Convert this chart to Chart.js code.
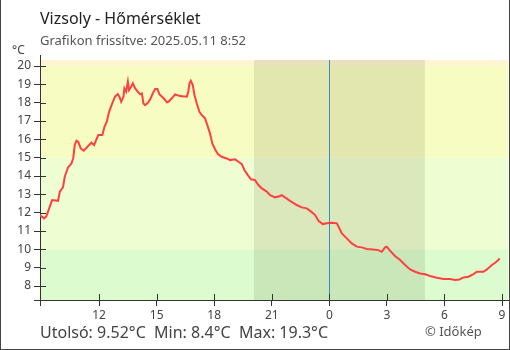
<!DOCTYPE html>
<html>
<head>
<meta charset="utf-8">
<script src="https://cdn.jsdelivr.net/npm/chart.js@4/dist/chart.umd.min.js"></script>
<style>
    html, body { margin: 0; padding: 0; background: #fff; }
    #wrap { position: relative; width: 510px; height: 350px; font-family: "Noto Sans", sans-serif; }
    #chart1 { position: absolute; left: 0; top: 0; }
    #frame { position: absolute; left: 0; top: 0; width: 510px; height: 350px; box-sizing: border-box;
             border-left: 1px solid #444; border-right: 1px solid #444; border-bottom: 1px solid #444; pointer-events: none; }
    .txt { position: absolute; white-space: nowrap; line-height: 1; }
    #title { left: 40px; top: 10px; font-size: 16px; color: #222; }
    #subtitle { left: 40px; top: 34px; font-size: 13px; color: #555; }
    #unit { left: 12px; top: 44px; font-size: 12px; color: #444; }
    #stats { left: 40px; top: 324px; font-size: 16px; color: #444; }
    #copy { left: 425px; top: 325px; font-size: 13px; color: #555; }
</style>
</head>
<body>
<div id="wrap">
    <canvas id="chart1" width="510" height="350"></canvas>
    <div class="txt" id="title">Vizsoly - Hőmérséklet</div>
    <div class="txt" id="subtitle">Grafikon frissítve: 2025.05.11 8:52</div>
    <div class="txt" id="unit">°C</div>
    <div class="txt" id="stats">Utolsó: 9.52°C&nbsp; Min: 8.4°C&nbsp; Max: 19.3°C</div>
    <div class="txt" id="copy">© Időkép</div>
    <div id="frame"></div>
</div>
<script>
// hours since the previous midnight (values above 24 are on the next day)
const hours = [
    8.91, 9.13, 9.25, 9.43, 9.55, 9.86, 9.95, 10.12, 10.21, 10.38, 10.56, 10.65, 10.73, 10.82,
    10.91, 11.05, 11.2, 11.43, 11.6, 11.74, 11.86, 11.96, 12.17, 12.28, 12.4, 12.52, 12.66,
    12.83, 12.97, 13.06, 13.15, 13.27, 13.32, 13.41, 13.5, 13.56, 13.67, 13.76, 13.88, 14.02,
    14.14, 14.23, 14.31, 14.4, 14.54, 14.66, 14.8, 14.92, 15.04, 15.14, 15.32, 15.44, 15.53,
    15.61, 15.79, 15.96, 16.05, 16.22, 16.57, 16.65, 16.71, 16.78, 16.88, 16.97, 17.09, 17.23,
    17.35, 17.52, 17.64, 17.78, 17.9, 18.05, 18.19, 18.39, 18.65, 18.83, 19.09, 19.26, 19.44,
    19.57, 19.75, 19.92, 20.13, 20.3, 20.48, 20.74, 20.91, 21.17, 21.4, 21.52, 21.69, 21.95,
    22.3, 22.56, 22.82, 23.0, 23.26, 23.43, 23.66, 23.87, 24.13, 24.39, 24.52, 24.65, 24.91,
    25.17, 25.43, 25.69, 25.95, 26.29, 26.55, 26.73, 26.9, 26.99, 27.16, 27.42, 27.69, 27.95,
    28.21, 28.47, 28.73, 28.99, 29.25, 29.6, 29.94, 30.29, 30.55, 30.78, 30.99, 31.25, 31.51,
    31.69, 32.03, 32.21, 32.47, 32.64, 32.81, 32.87
]
const temps = [
    11.87, 11.69, 11.8, 12.33, 12.69, 12.65, 13.14, 13.4, 13.96, 14.47, 14.69, 14.96, 15.69, 15.93,
    15.87, 15.5, 15.38, 15.64, 15.82, 15.69, 16.0, 16.24, 16.24, 16.69, 16.96, 17.5, 17.9,
    18.33, 18.47, 18.33, 18.05, 18.33, 18.78, 18.6, 19.15, 18.69, 18.87, 19.06, 18.78, 18.6,
    18.47, 18.51, 17.96, 17.87, 18.0, 18.18, 18.51, 18.75, 18.75, 18.47, 18.29, 18.15, 18.02,
    18.05, 18.24, 18.45, 18.42, 18.36, 18.33, 18.6, 19.06, 19.2, 18.96, 18.42, 17.96, 17.5,
    17.33, 17.15, 16.78, 16.33, 15.78, 15.45, 15.2, 15.05, 14.96, 14.87, 14.91, 14.78, 14.65,
    14.33, 14.05, 13.82, 13.78, 13.51, 13.33, 13.15, 12.96, 12.84, 12.9, 12.96, 12.84, 12.65,
    12.42, 12.29, 12.24, 12.1, 11.87, 11.56, 11.38, 11.42, 11.45, 11.42, 11.15, 10.87, 10.6,
    10.33, 10.15, 10.11, 10.02, 10.0, 9.96, 9.87, 10.11, 10.15, 9.93, 9.64, 9.42, 9.15,
    8.91, 8.78, 8.69, 8.64, 8.55, 8.45, 8.38, 8.38, 8.33, 8.36, 8.47, 8.51, 8.65,
    8.78, 8.78, 8.91, 9.15, 9.27, 9.42, 9.52
]
const xTicks = [12, 15, 18, 21, 24, 27, 30, 33]
const yTicks = [8, 9, 10, 11, 12, 13, 14, 15, 16, 17, 18, 19, 20]
const bandEdges = [20, 15, 10]       // temperature zones
const night = [20.07, 28.98]         // sunset, sunrise
const midnight = 24

const X_MIN = 8.92, X_MAX = 33.31
const Y_MIN = 7.24, Y_MAX = 20.33
const AXIS = '#333'

const decor = {
    id: 'decor',
    beforeDraw(chart) {
        const { ctx, chartArea: a, scales: { x, y } } = chart
        const cols = ['#fff5d2', '#f7fcc2', '#effdd2', '#dcfccf']
        const edges = [Y_MAX, ...bandEdges, Y_MIN]
        ctx.save()
        for (let i = 0; i < cols.length; i++) {
            const top = y.getPixelForValue(edges[i])
            const bot = y.getPixelForValue(edges[i + 1])
            ctx.fillStyle = cols[i]
            ctx.fillRect(a.left, top, a.right - a.left, bot - top)
        }
        const n0 = x.getPixelForValue(night[0]), n1 = x.getPixelForValue(night[1])
        ctx.fillStyle = 'rgba(40,50,0,0.1)'
        ctx.fillRect(n0, a.top, n1 - n0, a.bottom - a.top)
        ctx.restore()
    },
    beforeDatasetsDraw(chart) {
        const { ctx, chartArea: a, scales: { x } } = chart
        const px = Math.round(x.getPixelForValue(midnight)) + 0.5
        ctx.save()
        ctx.strokeStyle = '#3a8cc4'
        ctx.lineWidth = 1
        ctx.beginPath()
        ctx.moveTo(px, a.top)
        ctx.lineTo(px, a.bottom)
        ctx.stroke()
        ctx.restore()
    },
    afterDraw(chart) {
        const { ctx, chartArea: a, scales: { x, y } } = chart
        ctx.save()
        ctx.strokeStyle = AXIS
        ctx.lineWidth = 1
        ctx.beginPath()
        // axis ends sticking out past the corner
        ctx.moveTo(a.left + 0.5, a.top - 5)
        ctx.lineTo(a.left + 0.5, a.top)
        ctx.moveTo(a.left - 6, a.bottom + 0.5)
        ctx.lineTo(a.left, a.bottom + 0.5)
        // inner half of the ticks
        for (const t of y.ticks) {
            const py = Math.round(y.getPixelForValue(t.value)) + 0.5
            ctx.moveTo(a.left, py)
            ctx.lineTo(a.left + 6, py)
        }
        for (const t of x.ticks) {
            const px = Math.round(x.getPixelForValue(t.value)) + 0.5
            ctx.moveTo(px, a.bottom)
            ctx.lineTo(px, a.bottom - 6)
        }
        ctx.stroke()
        ctx.restore()
    }
}

const chartData = {
    type: 'line',
    data: {
        datasets: [{
            data: hours.map((h, i) => ({ x: h, y: temps[i] })),
            borderColor: '#ff4040',
            borderWidth: 2,
            pointRadius: 0,
            tension: 0,
            fill: false
        }]
    },
    options: {
        responsive: false,
        animation: false,
        devicePixelRatio: 1,
        layout: { padding: { top: 60, left: 0, right: 2, bottom: 0 } },
        plugins: { legend: { display: false }, tooltip: { enabled: false } },
        scales: {
            x: {
                type: 'linear',
                min: X_MIN,
                max: X_MAX,
                afterFit(s) { s.height = 50 },
                afterBuildTicks(s) { s.ticks = [X_MIN, ...xTicks].map(v => ({ value: v })) },
                grid: { drawOnChartArea: false, drawTicks: true, tickLength: 6, color: AXIS },
                border: { display: true, color: AXIS },
                ticks: {
                    autoSkip: false,
                    maxRotation: 0,
                    padding: 2,
                    color: '#444',
                    font: { family: 'Noto Sans', size: 12 },
                    callback: v => v === X_MIN ? '' : String(v % 24)
                }
            },
            y: {
                type: 'linear',
                min: Y_MIN,
                max: Y_MAX,
                afterFit(s) { s.width = 40 },
                afterBuildTicks(s) { s.ticks = yTicks.map(v => ({ value: v })) },
                grid: { drawOnChartArea: false, drawTicks: true, tickLength: 6, color: AXIS },
                border: { display: true, color: AXIS },
                ticks: {
                    padding: 3,
                    color: '#444',
                    font: { family: 'Noto Sans', size: 12 },
                    callback: v => String(v)
                }
            }
        }
    },
    plugins: [decor]
}

new Chart(document.getElementById('chart1').getContext('2d'), chartData)
</script>
</body>
</html>
